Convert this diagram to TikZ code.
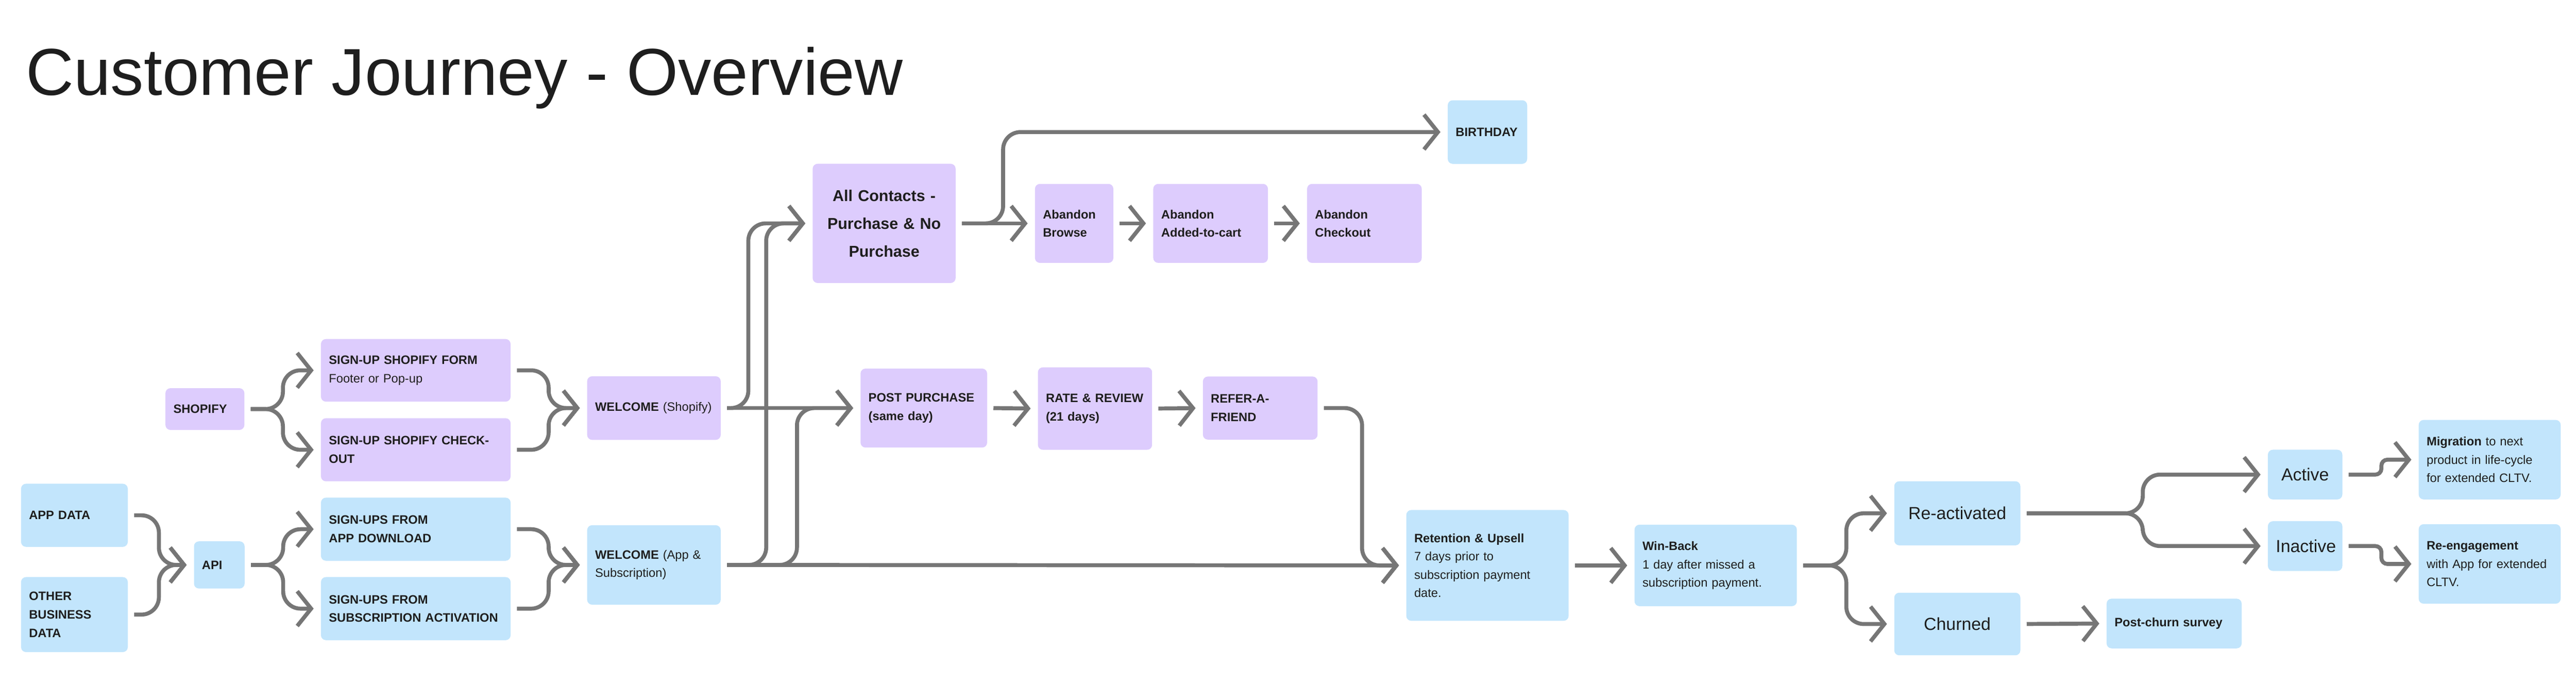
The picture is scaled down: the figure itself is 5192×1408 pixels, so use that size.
\documentclass[tikz,border=0pt]{standalone}
\usepackage{fontspec}
\setmainfont{Liberation Sans}
\usetikzlibrary{arrows.meta}
\definecolor{lilac}{HTML}{DDCCFD}
\definecolor{skyblue}{HTML}{C2E5FC}
\definecolor{linegray}{HTML}{767676}
\definecolor{ink}{HTML}{1E1E1E}
\tikzset{
  box/.style 2 args={rounded corners=0.1cm, draw=none, text=ink, inner xsep=0.16cm, inner ysep=0pt,
    align=left, text width=#1cm, minimum height=#2cm, font=\fontsize{7}{10.5}\selectfont},
  pbox/.style 2 args={box={#1}{#2}, fill=lilac},
  bbox/.style 2 args={box={#1}{#2}, fill=skyblue},
  big/.style={align=center, font=\fontsize{10}{13}\selectfont},
  flow/.style={draw=linegray, line width=0.08cm, rounded corners=0.35cm,
    -{Straight Barb[length=0.28cm,width=0.7cm]}, shorten <=0.12cm, shorten >=0.14cm},
}
\begin{document}
\begin{tikzpicture}[x=0.01cm, y=-0.01cm]
\useasboundingbox (0,0) rectangle (5192,1408);

\node[anchor=base west, text=ink, font=\fontsize{38}{40}\selectfont] (title) at (40,192) {Customer Journey - Overview};

% sources
\node[pbox={1.27}{0.84}] (shopify) at (413,824) {\textbf{SHOPIFY}};
\node[bbox={1.83}{1.27}] (appdata) at (150,1038) {\textbf{APP DATA}\\[1.2cm]};
\node[bbox={1.83}{1.51}] (otherdata) at (150,1238) {\textbf{OTHER}\\\textbf{BUSINESS}\\\textbf{DATA}};
\node[bbox={0.70}{0.95}] (api) at (442,1138) {\textbf{API}};

% sign-ups
\node[pbox={3.50}{1.26}] (formsignup) at (838,746) {\textbf{SIGN-UP SHOPIFY FORM}\\Footer or Pop-up\\[0.25cm]};
\node[pbox={3.50}{1.27}] (checkoutsignup) at (838,906) {\textbf{SIGN-UP SHOPIFY CHECKOUT}};
\node[bbox={3.50}{1.27}] (appsignup) at (838,1066) {\textbf{SIGN-UPS FROM}\\\textbf{APP DOWNLOAD}};
\node[bbox={3.50}{1.27}] (subsignup) at (838,1226) {\textbf{SIGN-UPS FROM}\\\textbf{SUBSCRIPTION ACTIVATION}};

% welcome
\node[pbox={2.37}{1.28}] (welshop) at (1318,822) {\textbf{WELCOME} (Shopify)};
\node[bbox={2.37}{1.60}] (welapp) at (1318,1138) {\textbf{WELCOME} (App \&\\Subscription)\\[0.3cm]};

% all contacts branch
\node[pbox={2.56}{2.40}, big, font=\bfseries\fontsize{9}{16}\selectfont] (allcontacts) at (1782,450) {All Contacts -\\Purchase \& No\\Purchase};
\node[bbox={1.28}{1.28}] (birthday) at (2998,266) {\textbf{BIRTHDAY}};
\node[pbox={1.26}{1.59}] (abbrowse) at (2165,450) {\textbf{Abandon}\\\textbf{Browse}\\[0.3cm]};
\node[pbox={1.99}{1.59}] (abcart) at (2440,450) {\textbf{Abandon}\\\textbf{Added-to-cart}\\[0.3cm]};
\node[pbox={1.99}{1.59}] (abcheckout) at (2750,450) {\textbf{Abandon}\\\textbf{Checkout}\\[0.3cm]};

% purchase branch
\node[pbox={2.23}{1.59}] (postpurchase) at (1862,822) {\textbf{POST PURCHASE}\\\textbf{(same day)}};
\node[pbox={1.98}{1.66}] (review) at (2207,823) {\textbf{RATE \& REVIEW}\\\textbf{(21 days)}};
\node[pbox={1.99}{1.27}] (referral) at (2540,822) {\textbf{REFER-A-FRIEND}};

% subscription lifecycle
\node[bbox={2.95}{2.23}] (retention) at (2998,1139) {\textbf{Retention \& Upsell}\\7 days prior to\\subscription payment\\date.};
\node[bbox={2.95}{1.64}] (winback) at (3458,1139) {\textbf{Win-Back}\\1 day after missed a\\subscription payment.};
\node[bbox={2.22}{1.29}, big] (reactivated) at (3945,1034) {Re-activated\\[0.35cm]};
\node[bbox={2.22}{1.26}, big] (churned) at (3945,1257) {Churned};
\node[bbox={1.18}{1.00}, big] (active) at (4646,956) {Active};
\node[bbox={1.18}{1.00}, big] (inactive) at (4646,1100) {Inactive};
\node[bbox={2.54}{1.60}] (migration) at (5018,926) {\textbf{Migration} to next\\product in life-cycle\\for extended CLTV.};
\node[bbox={2.54}{1.60}] (reengage) at (5018,1136) {\textbf{Re-engagement}\\with App for extended\\CLTV.};
\node[bbox={2.40}{1.00}] (postchurn) at (4382,1256) {\textbf{Post-churn survey}};

% connectors
\draw[flow] (shopify.east) -- ++(77,0) |- (formsignup.west);
\draw[flow] (shopify.east) -- ++(77,0) |- (checkoutsignup.west);
\draw[flow] (appdata.east) -- ++(62,0) |- (api.west);
\draw[flow] (otherdata.east) -- ++(62,0) |- (api.west);
\draw[flow] (api.east) -- ++(77,0) |- (appsignup.west);
\draw[flow] (api.east) -- ++(77,0) |- (subsignup.west);
\draw[flow] (formsignup.east) -- ++(76,0) |- (welshop.west);
\draw[flow] (checkoutsignup.east) -- ++(76,0) |- (welshop.west);
\draw[flow] (appsignup.east) -- ++(76,0) |- (welapp.west);
\draw[flow] (subsignup.east) -- ++(76,0) |- (welapp.west);

\draw[flow] (welshop.east) -- ++(55,0) |- (allcontacts.west);
\draw[flow] (welapp.east) -- ++(91,0) |- (allcontacts.west);
\draw[flow] (welshop.east) -- (postpurchase.west);
\draw[flow] (welapp.east) -- ++(153,0) |- (postpurchase.west);
\draw[flow] (welapp.east) -- (retention.west);

\draw[flow] (allcontacts.east) -- ++(95,0) |- (birthday.west);
\draw[flow] (allcontacts.east) -- (abbrowse.west);
\draw[flow] (abbrowse.east) -- (abcart.west);
\draw[flow] (abcart.east) -- (abcheckout.west);
\draw[flow] (postpurchase.east) -- (review.west);
\draw[flow] (review.east) -- (referral.west);
\draw[flow] (referral.east) -- ++(89,0) |- (retention.west);

\draw[flow] (retention.east) -- (winback.west);
\draw[flow] (winback.east) -- ++(99,0) |- (reactivated.west);
\draw[flow] (winback.east) -- ++(99,0) |- (churned.west);
\draw[flow] (churned.east) -- (postchurn.west);
\draw[flow] (reactivated.east) -- ++(246,0) |- (active.west);
\draw[flow] (reactivated.east) -- ++(246,0) |- (inactive.west);
\draw[flow, rounded corners=0.12cm] (active.east) -- ++(78,0) |- (migration.west);
\draw[flow, rounded corners=0.12cm] (inactive.east) -- ++(78,0) |- (reengage.west);
\end{tikzpicture}
\end{document}
